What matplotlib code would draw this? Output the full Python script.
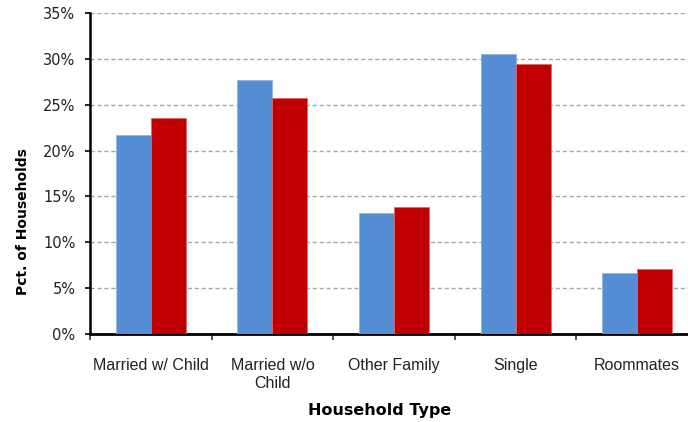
import numpy as np
import matplotlib
matplotlib.use('Agg')
import matplotlib.pyplot as plt
from matplotlib.ticker import FixedLocator, PercentFormatter

# Data (percent of households)
categories = ['Married w/ Child', 'Married w/o\nChild', 'Other Family', 'Single', 'Roommates']
series_a = [21.7, 27.7, 13.2, 30.5, 6.7]
series_b = [23.5, 25.7, 13.8, 29.4, 7.1]
y_ticks = [0, 5, 10, 15, 20, 25, 30, 35]

blue = '#558ED5'
red = '#C00000'


def main():
    fig = plt.figure(figsize=(6.88, 4.22), dpi=100)
    # right edge runs a bit past the figure, as in the original
    ax = fig.add_axes([90 / 688, 1 - 334 / 422, 608 / 688, 321 / 422])

    x = np.arange(len(categories))
    w = 0.288
    ax.bar(x - w / 2, series_a, w, color=blue, edgecolor='#8DB3E2', linewidth=0.6, zorder=3)
    ax.bar(x + w / 2, series_b, w, color=red, edgecolor='#E06666', linewidth=0.6, zorder=3)

    ax.set_xlim(-0.5, len(categories) - 0.5)
    ax.set_ylim(0, 35)
    ax.set_yticks(y_ticks)
    ax.yaxis.set_major_formatter(PercentFormatter(decimals=0))
    ax.yaxis.grid(True, color='#A6A6A6', linestyle=(0, (3, 2)), linewidth=1, zorder=0)

    # category labels sit between boundary ticks
    ax.set_xticks(x)
    ax.set_xticklabels(categories, family=['Liberation Sans', 'DejaVu Sans'],
                       fontsize=11.5, color='#222222', linespacing=1.25)
    ax.tick_params(axis='x', which='major', length=0, pad=17)
    ax.xaxis.set_minor_locator(FixedLocator(np.arange(-0.5, len(categories), 1.0)))
    ax.tick_params(axis='x', which='minor', length=4, width=1.2, color='#333333')

    ax.tick_params(axis='y', length=3.5, width=1.2, labelsize=10.5, labelcolor='#222222', pad=7)

    for side in ['top', 'right']:
        ax.spines[side].set_visible(False)
    ax.spines['left'].set_linewidth(1.8)
    ax.spines['bottom'].set_linewidth(2.0)

    fig.text(23 / 688, 1 - 222 / 422, 'Pct. of Households', rotation=90,
             ha='center', va='center', fontsize=10, fontweight='bold')
    fig.text(380 / 688, 1 - 415 / 422, 'Household Type', ha='center', va='baseline',
             fontsize=11.5, fontweight='bold')

    fig.savefig('out.png', dpi=100)


if __name__ == '__main__':
    main()
